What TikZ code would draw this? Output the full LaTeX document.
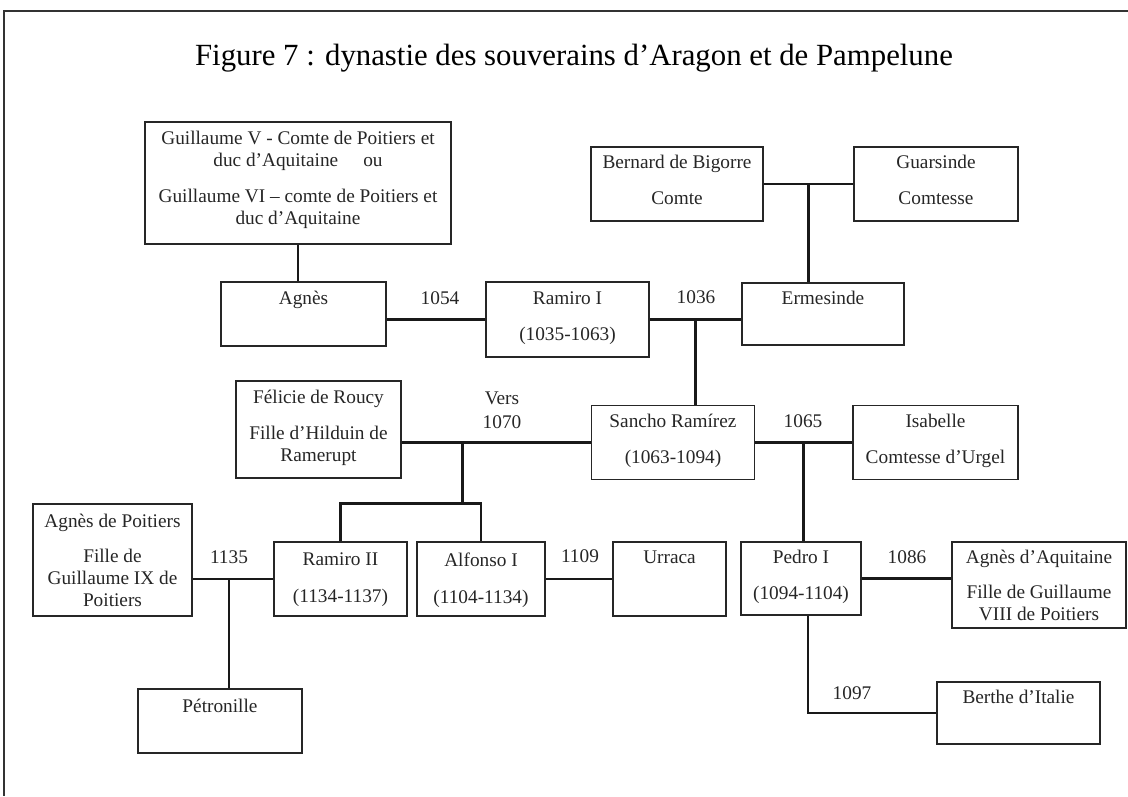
\documentclass[tikz,border=0pt]{standalone}
\usepackage{fontspec}
\setmainfont{Liberation Serif}
\usetikzlibrary{positioning,calc}

\tikzset{
  pers/.style={draw=black!85, line width=1.4pt, fill=white, inner sep=0pt},
  nom/.style={font=\fontsize{19.3}{22}\selectfont, align=center, inner sep=0pt, text=black!85},
  annee/.style={font=\fontsize{19.3}{24}\selectfont, align=center, inner sep=0pt, text=black!85},
  lien/.style={line width=2.8pt, draw=black!90},
}

\begin{document}
\begin{tikzpicture}[x=1pt,y=-1pt]
	\useasboundingbox (0,0) rectangle (1128,796);
	% Cadre et titre
	\draw[line width=1.5pt, black!80] (1128,11) -- (4,11) -- (4,796);
	\node[font=\fontsize{30.8}{36}\selectfont, inner sep=0pt] (titre) at (574,58) {Figure 7 : dynastie des souverains d’Aragon et de Pampelune};

	% Generation 1
	\node[pers, minimum width=306pt, minimum height=122pt] (guil) at (298,183) {};
	\node[nom, below=10pt of guil.north] (guilT) {Guillaume V - Comte de Poitiers et\\duc d’Aquitaine\hspace{1.3em}ou\\[14pt]Guillaume VI – comte de Poitiers et\\duc d’Aquitaine};
	\node[pers, minimum width=172pt, minimum height=74pt] (bernard) at (677,184) {};
	\node[nom, below=9pt of bernard.north] (bernardT) {Bernard de Bigorre\\[14pt]Comte};
	\node[pers, minimum width=164pt, minimum height=74pt] (guars) at (936,184) {};
	\node[nom, below=9pt of guars.north] (guarsT) {Guarsinde\\[14pt]Comtesse};

	% Generation 2
	\node[pers, minimum width=165pt, minimum height=64pt] (agnes) at (303.5,314) {};
	\node[nom, below=10pt of agnes.north] (agnesT) {Agnès};
	\node[pers, minimum width=163pt, minimum height=75pt] (ramI) at (567.5,319.5) {};
	\node[nom, below=10pt of ramI.north] (ramIT) {Ramiro I\\[14pt](1035-1063)};
	\node[pers, minimum width=162pt, minimum height=62pt] (ermes) at (823,314) {};
	\node[nom, below=9pt of ermes.north] (ermesT) {Ermesinde};

	% Generation 3
	\node[pers, minimum width=165pt, minimum height=97pt] (felicie) at (318.5,429.5) {};
	\node[nom, below=10pt of felicie.north] (felicieT) {Félicie de Roucy\\[14pt]Fille d’Hilduin de\\Ramerupt};
	\node[pers, minimum width=163pt, minimum height=74pt] (sancho) at (673,442.5) {};
	\node[nom, below=9pt of sancho.north] (sanchoT) {Sancho Ramírez\\[14pt](1063-1094)};
	\node[pers, minimum width=165pt, minimum height=74pt] (isab) at (935.5,442.5) {};
	\node[nom, below=9pt of isab.north] (isabT) {Isabelle\\[14pt]Comtesse d’Urgel};

	% Generation 4
	\node[pers, minimum width=159pt, minimum height=112pt] (agnesP) at (112.5,560) {};
	\node[nom, below=11pt of agnesP.north] (agnesPT) {Agnès de Poitiers\\[13pt]Fille de\\Guillaume IX de\\Poitiers};
	\node[pers, minimum width=133pt, minimum height=74pt] (ramII) at (340.5,579) {};
	\node[nom, below=11pt of ramII.north] (ramIIT) {Ramiro II\\[15pt](1134-1137)};
	\node[pers, minimum width=128pt, minimum height=74pt] (alfonso) at (481,579) {};
	\node[nom, below=11pt of alfonso.north] (alfonsoT) {Alfonso I\\[15pt](1104-1134)};
	\node[pers, minimum width=113pt, minimum height=74pt] (urraca) at (669.5,579) {};
	\node[nom, below=9pt of urraca.north] (urracaT) {Urraca};
	\node[pers, minimum width=120pt, minimum height=73pt] (pedro) at (801,578.5) {};
	\node[nom, below=9pt of pedro.north] (pedroT) {Pedro I\\[14pt](1094-1104)};
	\node[pers, minimum width=174pt, minimum height=86pt] (agnesA) at (1039,585) {};
	\node[nom, below=9pt of agnesA.north] (agnesAT) {Agnès d’Aquitaine\\[13pt]Fille de Guillaume\\VIII de Poitiers};

	% Generation 5
	\node[pers, minimum width=164pt, minimum height=64pt] (petro) at (220,721) {};
	\node[nom, below=11pt of petro.north] (petroT) {Pétronille};
	\node[pers, minimum width=163pt, minimum height=62pt] (berthe) at (1018.5,713) {};
	\node[nom, below=9pt of berthe.north] (bertheT) {Berthe d’Italie};

	% Liens
	\draw[lien] (guil.south) -- (guil.south |- agnes.north);
	\draw[lien] (ramI.west) -- (ramI.west -| agnes.east);
	\draw[lien] (bernard.east) -- (guars.west);
	\coordinate (jBG) at ($(bernard.east)!0.5!(guars.west)$);
	\draw[lien] (jBG) -- (jBG |- ermes.north);
	\draw[lien] (ramI.east) -- (ramI.east -| ermes.west);
	\coordinate (j1036) at ($(ramI.east)!0.5!(ramI.east -| ermes.west)$);
	\draw[lien] (j1036) -- (j1036 |- sancho.north);
	\draw[lien] (sancho.west) -- (sancho.west -| felicie.east);
	\coordinate (j1070) at ($(sancho.west -| felicie.east)!0.32!(sancho.west)$);
	\coordinate (fratrie) at ($(j1070)+(0,61)$);
	\draw[lien] (j1070) -- (fratrie);
	\draw[lien] (ramII.north) |- (fratrie) -| (alfonso.north);
	\draw[lien] (sancho.east) -- (isab.west);
	\coordinate (j1065) at ($(sancho.east)!0.5!(isab.west)$);
	\draw[lien] (j1065) -- (j1065 |- pedro.north);
	\draw[lien] (ramII.west) -- (ramII.west -| agnesP.east);
	\coordinate (j1135) at ($(ramII.west -| agnesP.east)!0.45!(ramII.west)$);
	\draw[lien] (j1135) -- (j1135 |- petro.north);
	\draw[lien] (alfonso.east) -- (alfonso.east -| urraca.west);
	\draw[lien] (pedro.east) -- (pedro.east -| agnesA.west);
	\draw[lien] ($(pedro.south)+(7,0)$) |- (berthe.west);

	% Annees
	\node[annee] (a1054) at (440,298) {1054};
	\node[annee] (a1036) at (696,297) {1036};
	\node[annee] (a1070) at (502,410) {Vers\\1070};
	\node[annee] (a1065) at (803,421) {1065};
	\node[annee] (a1135) at (229,557) {1135};
	\node[annee] (a1109) at (580,556) {1109};
	\node[annee] (a1086) at (907,557) {1086};
	\node[annee] (a1097) at (852,693) {1097};
\end{tikzpicture}
\end{document}
